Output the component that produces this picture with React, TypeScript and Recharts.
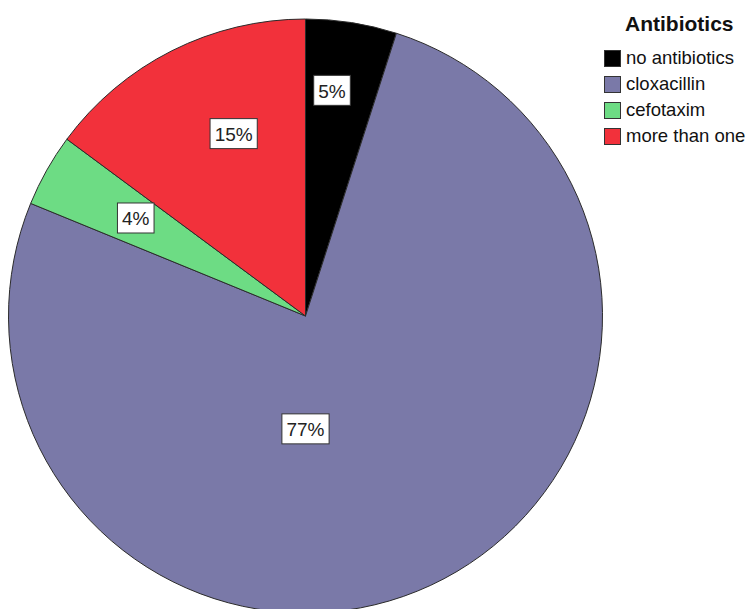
import React from 'react';
import { PieChart, Pie, Legend } from 'recharts';

// Share of patients by antibiotic given (percent, as labelled)
const groups = ['no antibiotics', 'cloxacillin', 'cefotaxim', 'more than one'];
const shares = [5, 77, 4, 15];
const colors = ['#000000', '#7a79a8', '#6ddc84', '#f2313b'];

const FONT = '"Liberation Sans", Arial, sans-serif';

// Where each percentage box sits: clock angle (deg from 12 o'clock) and fraction of radius
const labelSpot: Record<string, { angle: number; r: number }> = {
  'no antibiotics': { angle: 6.7, r: 0.765 },
  cloxacillin: { angle: 180, r: 0.38 },
  cefotaxim: { angle: -60, r: 0.66 },
  'more than one': { angle: -21.5, r: 0.66 },
};

const pieData = groups.map((name, i) => ({ name, value: shares[i], fill: colors[i] }));

const renderLabel = (props: any) => {
  const { cx, cy, outerRadius, name, value } = props;
  const spot = labelSpot[name];
  const rad = (spot.angle * Math.PI) / 180;
  const x = cx + spot.r * outerRadius * Math.sin(rad);
  const y = cy - spot.r * outerRadius * Math.cos(rad);
  const text = `${value}%`;
  // digits ~10.6px, percent sign ~17px at 19px Arial, plus padding
  const w = (text.length - 1) * 10.6 + 17 + 9;
  const h = 30;
  return (
    <g>
      <rect x={x - w / 2} y={y - h / 2} width={w} height={h} fill="#ffffff" stroke="#333333" strokeWidth={1} />
      <text x={x} y={y + 1} textAnchor="middle" dominantBaseline="central" fontFamily={FONT} fontSize={19} fill="#222222">
        {text}
      </text>
    </g>
  );
};

const LegendBox = ({ payload }: any) => {
  const items = [...(payload || [])].sort((a: any, b: any) => groups.indexOf(a.value) - groups.indexOf(b.value));
  return (
    <div style={{ fontFamily: FONT, color: '#111' }}>
      <div style={{ paddingLeft: 21, fontSize: 21, fontWeight: 'bold', height: 35, lineHeight: '28px' }}>Antibiotics</div>
      {items.map((entry: any) => (
        <div key={entry.value} style={{ display: 'flex', alignItems: 'center', height: 26 }}>
          <span
            style={{
              width: 17,
              height: 17,
              boxSizing: 'border-box',
              background: entry.color,
              border: '1px solid #333',
              marginRight: 5,
              flex: 'none',
            }}
          />
          <span style={{ fontSize: 18.5, whiteSpace: 'nowrap' }}>{entry.value}</span>
        </div>
      ))}
    </div>
  );
};

const App: React.FC = () => (
  <div style={{ position: 'absolute', left: 0, top: 0, width: 755, height: 609, background: '#fff', overflow: 'hidden' }}>
    <PieChart width={755} height={609} margin={{ top: 0, right: 0, bottom: 0, left: 0 }}>
      <Pie
        data={pieData}
        dataKey="value"
        nameKey="name"
        cx={305.5}
        cy={316}
        outerRadius={297}
        startAngle={90}
        endAngle={-270}
        stroke="#2b2b2b"
        strokeWidth={1}
        label={renderLabel}
        labelLine={false}
        isAnimationActive={false}
      />
      <Legend
        content={<LegendBox />}
        wrapperStyle={{ position: 'absolute', left: 604, top: 10, width: 151 }}
      />
    </PieChart>
  </div>
);

export default App;
